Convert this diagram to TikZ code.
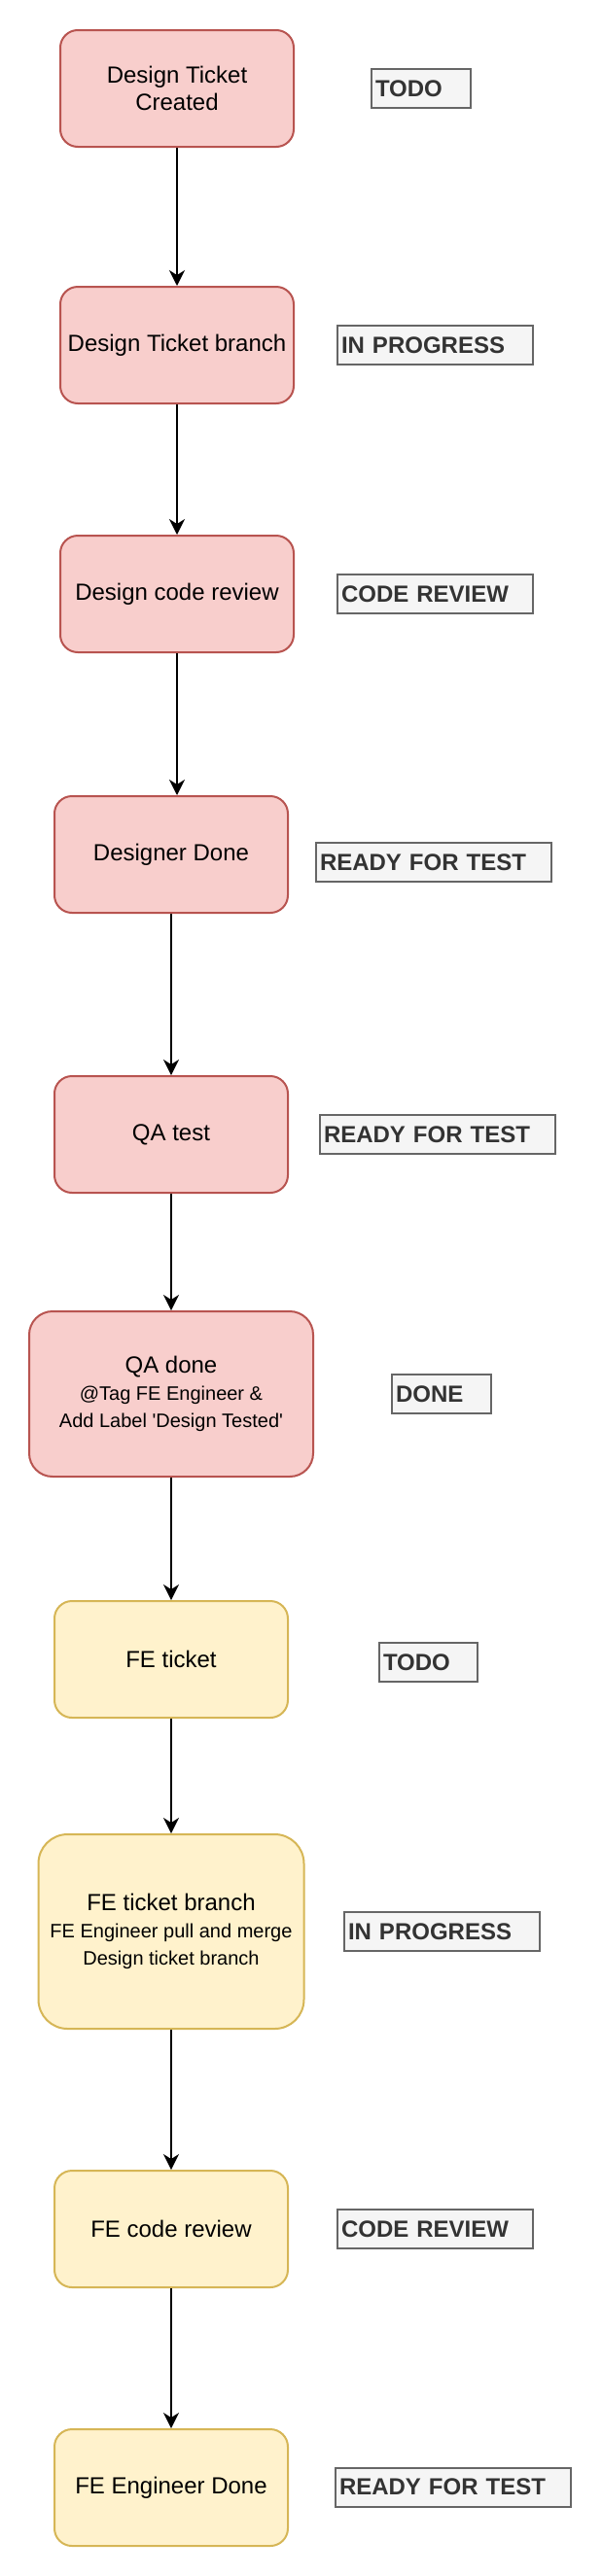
\documentclass[tikz,border=0pt]{standalone}
\usepackage{fontspec}
\setmainfont{Liberation Sans}[Ligatures=TeXOff]
\usetikzlibrary{arrows.meta}

\definecolor{pinkfill}{HTML}{F8CECC}
\definecolor{pinkline}{HTML}{B85450}
\definecolor{yellowfill}{HTML}{FFF2CC}
\definecolor{yellowline}{HTML}{D6B656}
\definecolor{statusfill}{HTML}{F5F5F5}
\definecolor{statusline}{HTML}{666666}
\definecolor{statustext}{HTML}{333333}
\newcommand{\subtext}{\fontsize{10}{13.5}\selectfont}

\begin{document}
\begin{tikzpicture}[->,>={Stealth[length=8pt,width=8pt,inset=2.5pt]},x=1pt,y=-1pt,
  line width=1pt,
  main node/.style={rectangle,rounded corners=9pt,minimum width=120pt,minimum height=60pt,
    align=center,inner sep=2pt,font=\fontsize{12}{14}\selectfont},
  pink node/.style={main node,fill=pinkfill,draw=pinkline},
  yellow node/.style={main node,fill=yellowfill,draw=yellowline},
  status node/.style={rectangle,anchor=west,fill=statusfill,draw=statusline,text=statustext,
    font=\fontsize{12}{14}\selectfont\bfseries,text width=#1,align=left,
    minimum height=20pt,inner xsep=2pt,inner ysep=0pt}]
  \useasboundingbox (0,0) rectangle (309,1325);
  \node[pink node] (created) at (91,45.5) {Design Ticket\\Created};
  \node[pink node] (branch) at (91,177.5) {Design Ticket branch};
  \node[pink node] (review) at (91,305.5) {Design code review};
  \node[pink node] (designdone) at (88,439.5) {Designer Done};
  \node[pink node] (qatest) at (88,583.5) {QA test};
  \node[pink node,minimum width=146pt,minimum height=85pt,rounded corners=12pt] (qadone) at (88,717)
    {QA done\\{\subtext @Tag FE Engineer \&}\\{\subtext Add Label 'Design Tested'}};
  \node[yellow node] (feticket) at (88,853.5) {FE ticket};
  \node[yellow node,minimum width=136.5pt,minimum height=100pt,rounded corners=15pt] (febranch) at (88,993.5)
    {FE ticket branch\\{\subtext FE Engineer pull and merge}\\{\subtext Design ticket branch}};
  \node[yellow node] (fereview) at (88,1146.5) {FE code review};
  \node[yellow node] (fedone) at (88,1279.5) {FE Engineer Done};

  \node[status node=47pt] (todo1) at (190.5,45.5) {TODO};
  \node[status node=96.5pt] (progress1) at (173,177.5) {IN PROGRESS};
  \node[status node=96.5pt] (codereview1) at (173,305.5) {CODE REVIEW};
  \node[status node=117pt] (ready1) at (162,443.5) {READY FOR TEST};
  \node[status node=117pt] (ready2) at (164,583.5) {READY FOR TEST};
  \node[status node=47pt] (done) at (201,717) {DONE};
  \node[status node=46.5pt] (todo2) at (194.5,855) {TODO};
  \node[status node=96.5pt] (progress2) at (176.5,993.5) {IN PROGRESS};
  \node[status node=96.5pt] (codereview2) at (173,1146.5) {CODE REVIEW};
  \node[status node=117pt] (ready3) at (172,1279.25) {READY FOR TEST};

  \path (created) edge (branch)
        (branch) edge (review)
        (review.south) edge (review.south |- designdone.north)
        (designdone) edge (qatest)
        (qatest) edge (qadone)
        (qadone) edge (feticket)
        (feticket) edge (febranch)
        (febranch) edge (fereview)
        (fereview) edge (fedone);
\end{tikzpicture}
\end{document}
